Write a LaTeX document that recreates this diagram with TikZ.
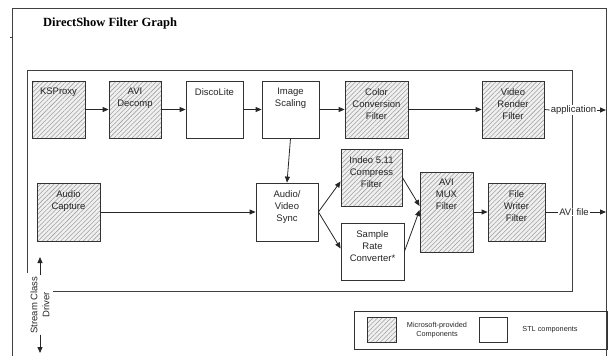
\documentclass[tikz,border=0pt]{standalone}
\usepackage{fontspec}
\setmainfont{Liberation Sans}
\newfontfamily\titlefont{Liberation Serif}
\usetikzlibrary{arrows.meta,patterns.meta}
\begin{document}
\begin{tikzpicture}[x=1pt,y=-1pt,
  frame/.style={draw=black!75,line width=0.8pt},
  box/.style={draw=black!80,line width=0.8pt,fill=white,rectangle,inner sep=0pt},
  msbox/.style={box,preaction={fill=gray!12},pattern={Lines[angle=45,distance=3.2pt,line width=0.55pt]},pattern color=gray!75},
  txt/.style={font=\fontsize{9.5}{12}\selectfont,align=center,text=black!85},
  conn/.style={draw=black!85,line width=0.8pt,-{Triangle[length=6pt,width=5pt]}},
  plain/.style={draw=black!85,line width=0.8pt},
  lbl/.style={txt,fill=white,inner sep=1pt},
  legtxt/.style={font=\fontsize{7.3}{9.5}\selectfont,align=center,text=black!85}
]
\useasboundingbox (0,0) rectangle (608,356);
% outer frame
\draw[frame] (12,356) -- (12,8) -- (606,8) -- (606,356);
\draw[frame] (10,37) -- (12,37);
% inner frame
\draw[frame] (27,273) -- (27,70) -- (572,70) -- (572,291) -- (53,291);
% title
\node[anchor=base west,font=\titlefont\bfseries\fontsize{12.5}{14}\selectfont,inner sep=0pt] (title) at (43,27) {DirectShow Filter Graph};

% row 1
\node[msbox,minimum width=53pt,minimum height=57pt,label={[txt,anchor=north,yshift=-4pt]north:KSProxy}] (ks) at (58.5,109.5) {};
\node[msbox,minimum width=52pt,minimum height=57pt,label={[txt,anchor=north,yshift=-4pt]north:AVI\\Decomp}] (avi) at (135,109.5) {};
\node[box,minimum width=57pt,minimum height=57pt,label={[txt,anchor=north,yshift=-4pt]north:DiscoLite}] (disco) at (214.5,109.5) {};
\node[box,minimum width=57pt,minimum height=57pt,label={[txt,anchor=north,yshift=-4pt]north:Image\\Scaling}] (scale) at (290.5,109.5) {};
\node[msbox,minimum width=63pt,minimum height=57pt,label={[txt,anchor=north,yshift=-4pt]north:Color\\Conversion\\Filter}] (color) at (376.5,109.5) {};
\node[msbox,minimum width=62pt,minimum height=57pt,label={[txt,anchor=north,yshift=-4pt]north:Video\\Render\\Filter}] (vrender) at (513,109.5) {};

% row 2
\node[msbox,minimum width=63pt,minimum height=58pt,label={[txt,anchor=north,yshift=-4pt]north:Audio\\Capture}] (acap) at (68.5,212) {};
\node[box,minimum width=62pt,minimum height=58pt,label={[txt,anchor=north,yshift=-4pt]north:Audio/\\Video\\Sync}] (sync) at (287,212) {};
\node[msbox,minimum width=61pt,minimum height=57pt,label={[txt,anchor=north,yshift=-4pt]north:Indeo 5.11\\Compress\\Filter}] (indeo) at (371.5,177.5) {};
\node[box,minimum width=63pt,minimum height=57pt,label={[txt,anchor=north,yshift=-4pt]north:Sample\\Rate\\Converter*}] (src) at (372.5,251.5) {};
\node[msbox,minimum width=53pt,minimum height=80pt,label={[txt,anchor=north,yshift=-4pt]north:AVI\\MUX\\Filter}] (mux) at (446.5,212) {};
\node[msbox,minimum width=57pt,minimum height=58pt,label={[txt,anchor=north,yshift=-4pt]north:File\\Writer\\Filter}] (fw) at (516.5,212) {};

% output labels
\node[lbl] (app) at (573.5,110) {application};
\node[lbl] (avif) at (574,212) {AVI file};
\coordinate (append) at (606,110);
\coordinate (avifend) at (606,212);

% connectors
\draw[conn] (ks) -- (avi);
\draw[conn] (avi) -- (disco);
\draw[conn] (disco) -- (scale);
\draw[conn] (scale) -- (color);
\draw[conn] (color) -- (vrender);
\draw[plain] (vrender.east) -- (app.west);
\draw[conn] (app.east) -- (append);
\draw[conn] (scale.south) -- (sync.north);
\draw[conn] (acap) -- (sync);
\draw[conn] (sync.east) -- ([yshift=-4pt]indeo.west);
\draw[conn] (sync.east) -- ([yshift=3pt]src.west);
\draw[conn] (indeo.east) -- ([yshift=6pt]mux.west);
\draw[conn] (src.east) -- ([yshift=2pt]mux.west);
\draw[conn] (mux) -- (fw);
\draw[plain] (fw.east) -- (avif.west);
\draw[conn] (avif.east) -- (avifend);

% stream class driver
\node[txt,rotate=90,inner sep=1pt] (scd) at (40,305) {Stream Class\\Driver};
\coordinate (scdup) at (40,257);
\coordinate (scddown) at (40,353);
\draw[conn] (scd.east) -- (scdup);
\draw[conn] (scd.west) -- (scddown);

% legend
\node[draw=black!80,line width=0.8pt,minimum width=253pt,minimum height=38pt,inner sep=0pt] (legend) at (480.5,330) {};
\node[msbox,minimum width=29pt,minimum height=25pt] (legms) at (381.5,329.5) {};
\node[legtxt] (legmstxt) at (437,330) {Microsoft-provided\\Components};
\node[box,minimum width=28pt,minimum height=25pt] (legstl) at (493,329.5) {};
\node[legtxt] (legstltxt) at (550,330) {STL components};
\end{tikzpicture}
\end{document}
